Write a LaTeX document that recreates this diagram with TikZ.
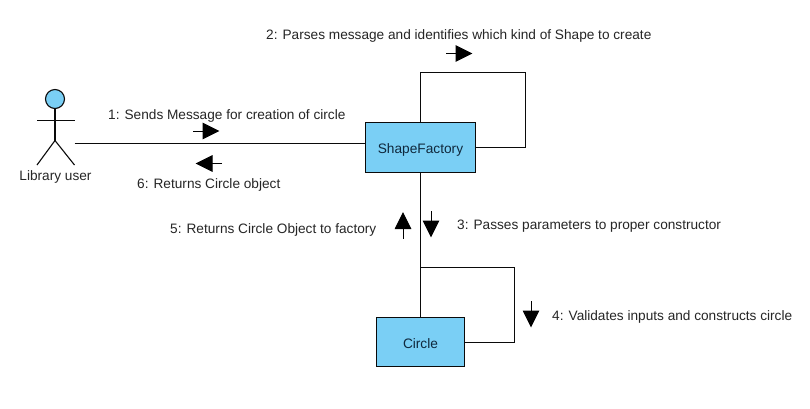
\documentclass[tikz,border=0pt]{standalone}
\usepackage{fontspec}
\setmainfont{Liberation Sans}
\usetikzlibrary{arrows.meta}
\definecolor{fillblue}{RGB}{122,207,245}
\definecolor{inkline}{RGB}{10,10,10}
\definecolor{boxtext}{RGB}{15,40,60}
\tikzset{
  x=1pt,y=-1pt,
  box/.style={draw=inkline,line width=1.1pt,fill=fillblue,inner sep=0pt,text=boxtext,text depth=0pt,font=\fontsize{13.7}{16}\selectfont},
  wire/.style={draw=inkline,line width=1.1pt},
  msg/.style={draw=black,line width=1pt,-{Triangle[length=17pt,width=16.5pt]}},
  lbl/.style={inner sep=0pt,anchor=west,text=black!85,font=\fontsize{13.65}{16}\selectfont}
}
\begin{document}
\begin{tikzpicture}
\useasboundingbox (0,0) rectangle (810,409);
\fill[white] (0,0) rectangle (810,409);
% actor
\node[draw=inkline,line width=1.1pt,fill=fillblue,circle,minimum size=19pt,inner sep=0pt] (head) at (55,99) {};
\coordinate (hip) at (55,140.5);
\coordinate (armL) at (37,120.5);
\coordinate (armR) at (74.5,120.5);
\coordinate (legL) at (37,165);
\coordinate (legR) at (74.5,165);
\coordinate (actorEnd) at (74.5,143.5);
\draw[wire] (head.south) -- (hip);
\draw[wire] (armL) -- (armR);
\draw[wire] (legL) -- (hip) -- (legR);
\node[lbl,anchor=center] (userlbl) at (55.5,176.5) {Library user};
% boxes
\node[box,text height=11.6pt,minimum width=110pt,minimum height=50pt] (factory) at (420.5,147.5) {ShapeFactory};
\node[box,text height=12.6pt,minimum width=88pt,minimum height=49pt] (circ) at (420.5,342) {Circle};
% connectors
\coordinate (l1a) at (420.5,72.5);
\coordinate (l1b) at (525.5,72.5);
\coordinate (l1c) at (525.5,147.5);
\coordinate (j) at (420.5,267.5);
\coordinate (l2b) at (514.5,267.5);
\coordinate (l2c) at (514.5,342.5);
\draw[wire] (actorEnd) -- (actorEnd -| factory.west);
\draw[wire] (factory.north) -- (l1a) -- (l1b) -- (l1c) -- (factory.east);
\draw[wire] (factory.south) -- (circ.north);
\draw[wire] (j) -- (l2b) -- (l2c) -- (l2c -| circ.east);
% message arrows
\coordinate (a1s) at (193,131); \coordinate (a1e) at (219.5,131);
\coordinate (a6s) at (222,163.5); \coordinate (a6e) at (195.5,163.5);
\coordinate (a2s) at (446,53.5); \coordinate (a2e) at (472.5,53.5);
\coordinate (a3s) at (431,211); \coordinate (a3e) at (431,237.5);
\coordinate (a5s) at (403,238.5); \coordinate (a5e) at (403,212);
\coordinate (a4s) at (531,301); \coordinate (a4e) at (531,327.5);
\draw[msg] (a1s) -- (a1e);
\draw[msg] (a6s) -- (a6e);
\draw[msg] (a2s) -- (a2e);
\draw[msg] (a3s) -- (a3e);
\draw[msg] (a5s) -- (a5e);
\draw[msg] (a4s) -- (a4e);
% labels
\node[lbl] (m1) at (108,115.5) {1: Sends Message for creation of circle};
\node[lbl] (m2) at (266,35.5) {2: Parses message and identifies which kind of Shape to create};
\node[lbl] (m3) at (457,226.5) {3: Passes parameters to proper constructor};
\node[lbl] (m4) at (552,316.5) {4: Validates inputs and constructs circle};
\node[lbl] (m5) at (170,229.5) {5: Returns Circle Object to factory};
\node[lbl] (m6) at (137,185) {6: Returns Circle object};
\end{tikzpicture}
\end{document}
